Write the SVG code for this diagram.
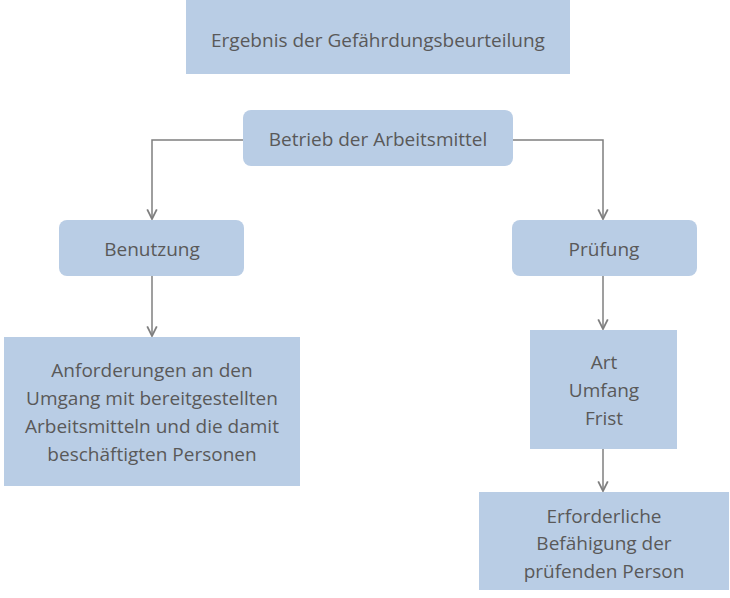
<svg xmlns="http://www.w3.org/2000/svg" width="730" height="598" viewBox="0 0 730 598">
<style>
.b{fill:#b9cde5}
text{font-family:"Open Sans","Liberation Sans",sans-serif;font-size:19px;fill:#595959;text-anchor:middle}
.c{fill:none;stroke:#7f7f7f;stroke-width:1.5;marker-end:url(#a)}
</style>
<defs><marker id="a" viewBox="0 0 10 10" refX="9" refY="5" markerWidth="8" markerHeight="8" orient="auto"><path d="M1,1 L9,5 L1,9" fill="none" stroke="#7f7f7f" stroke-width="1.5"/></marker></defs>
<rect width="730" height="598" fill="#fff"/>
<g id="connectors">
<path class="c" d="M243,140 H152 V219"/>
<path class="c" d="M513,140 H603 V219"/>
<path class="c" d="M152,276 V336"/>
<path class="c" d="M603,276 V329"/>
<path class="c" d="M603,449 V491"/>
</g>
<g id="n1"><rect class="b" x="186" y="0" width="384" height="74"/><text x="378" y="47">Ergebnis der Gefährdungsbeurteilung</text></g>
<g id="n2"><rect class="b" x="243" y="110" width="270" height="56" rx="8"/><text x="378" y="146">Betrieb der Arbeitsmittel</text></g>
<g id="n3"><rect class="b" x="59" y="220" width="185" height="56" rx="8"/><text x="152" y="256">Benutzung</text></g>
<g id="n4"><rect class="b" x="512" y="220" width="185" height="56" rx="8"/><text x="604" y="256">Prüfung</text></g>
<g id="n5"><rect class="b" x="4" y="337" width="296" height="149"/>
<text x="152" y="377">Anforderungen an den</text><text x="152" y="405">Umgang mit bereitgestellten</text><text x="152" y="433">Arbeitsmitteln und die damit</text><text x="152" y="461">beschäftigten Personen</text></g>
<g id="n6"><rect class="b" x="530" y="330" width="147" height="119"/>
<text x="604" y="369">Art</text><text x="604" y="397">Umfang</text><text x="604" y="425">Frist</text></g>
<g id="n7"><rect class="b" x="479" y="492" width="250" height="98"/>
<text x="604" y="523">Erforderliche</text><text x="604" y="550">Befähigung der</text><text x="604" y="578">prüfenden Person</text></g>
</svg>
